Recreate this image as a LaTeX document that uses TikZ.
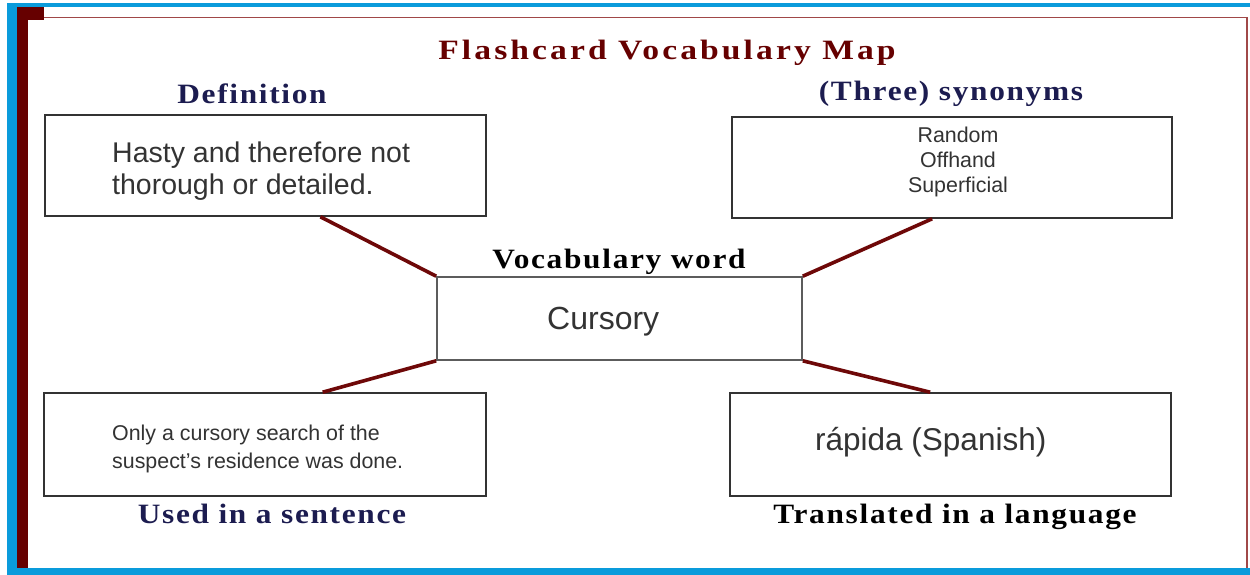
\documentclass[tikz,border=0pt]{standalone}
\usepackage{fontspec}
\setmainfont{Liberation Serif}
\setsansfont{Liberation Sans}
\newfontfamily\headfont{Liberation Serif}[FakeStretch=1.12, LetterSpace=6]
\newfontfamily\titlefont{Liberation Serif}[FakeStretch=1.2, LetterSpace=11]
\usetikzlibrary{calc}
\definecolor{frameblue}{HTML}{0A9BDB}
\definecolor{maroon}{HTML}{660000}
\definecolor{navy}{HTML}{1C1C50}
\definecolor{linkred}{HTML}{6E0808}
\definecolor{rimred}{HTML}{A04848}
\definecolor{boxgray}{HTML}{333333}

\begin{document}
\begin{tikzpicture}[x=1pt, y=-1pt,
    box/.style={draw=boxgray, line width=1.6pt, inner sep=0pt},
    boxtext/.style={font=\sffamily, text=boxgray, inner sep=0pt},
    head/.style={font=\headfont\bfseries\fontsize{28}{30}\selectfont, text=navy, anchor=base, inner sep=0pt},
    link/.style={draw=linkred, line width=3.6pt}]
    \useasboundingbox (0,0) rectangle (1250,575);
    \fill[white] (0,0) rectangle (1250,575);
    \fill[frameblue] (7,3) rectangle (1250,7);
    \fill[frameblue] (7,3) rectangle (17,575);
    \fill[frameblue] (7,568) rectangle (1250,575);
    \fill[maroon] (17,7) rectangle (28,568);
    \fill[maroon] (17,7) rectangle (44,20);
    \draw[rimred, line width=1.5pt] (44,17.5) -- (1247,17.5) -- (1247,568);

    \node[head, text=maroon, font=\titlefont\bfseries\fontsize{28}{30}\selectfont] (title) at (667,60) {Flashcard Vocabulary Map};
    \node[head] (defhead) at (252,104) {Definition};
    \node[head] (synhead) at (951,101) {(Three) synonyms};
    \node[head, text=black] (wordhead) at (619,268) {Vocabulary word};
    \node[head] (senthead) at (272,523) {Used in a sentence};
    \node[head, text=black] (transhead) at (955,523) {Translated in a language};

    \node[box, minimum width=441pt, minimum height=101pt] (def) at (265.5,165.5) {};
    \node[box, minimum width=440pt, minimum height=101pt] (syn) at (952,167.5) {};
    \node[box, minimum width=365pt, minimum height=83pt, draw=boxgray!80] (word) at (619.5,318.5) {};
    \node[box, minimum width=442pt, minimum height=103pt] (sent) at (265,444.5) {};
    \node[box, minimum width=441pt, minimum height=103pt] (trans) at (950.5,444.5) {};

    \node[boxtext, align=left, anchor=north west, font=\sffamily\fontsize{28.5}{32}\selectfont] (deftext) at (112,142) {Hasty and therefore not\\thorough or detailed.};
    \node[boxtext, align=center, anchor=north, font=\sffamily\fontsize{21.4}{25}\selectfont] (syntext) at (958,126.5) {Random\\Offhand\\Superficial};
    \node[boxtext, anchor=base west, font=\sffamily\fontsize{32}{34}\selectfont] (wordtext) at (547,329) {Cursory};
    \node[boxtext, align=left, anchor=north west, font=\sffamily\fontsize{21.4}{27.5}\selectfont] (senttext) at (112,425) {Only a cursory search of the\\suspect’s residence was done.};
    \node[boxtext, anchor=base west, font=\sffamily\fontsize{31.5}{34}\selectfont] (transtext) at (815,450) {rápida (Spanish)};

    \draw[link] ($(def.south west)!0.624!(def.south east)$) -- (word.north west);
    \draw[link] ($(syn.south west)!0.455!(syn.south east)$) -- (word.north east);
    \draw[link] (word.south west) -- ($(sent.north west)!0.63!(sent.north east)$);
    \draw[link] (word.south east) -- ($(trans.north west)!0.454!(trans.north east)$);
\end{tikzpicture}
\end{document}
